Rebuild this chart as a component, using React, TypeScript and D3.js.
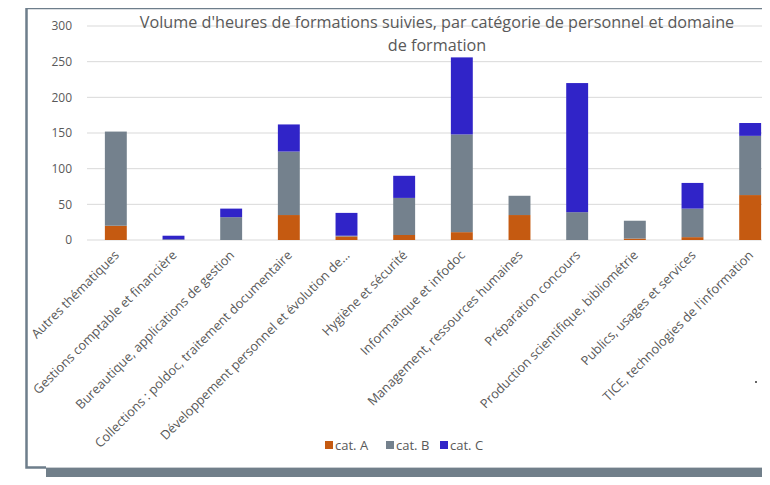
import React from 'react';
import * as d3 from 'd3';

const categories = [
  'Autres thématiques',
  'Gestions comptable et financière',
  'Bureautique, applications de gestion',
  'Collections : poldoc, traitement documentaire',
  'Développement personnel et évolution de...',
  'Hygiène et sécurité',
  'Informatique et infodoc',
  'Management, ressources humaines',
  'Préparation concours',
  'Production scientifique, bibliométrie',
  'Publics, usages et services',
  "TICE, technologies de l'information",
];

const catA = [20, 0, 0, 35, 5, 7, 11, 35, 0, 2, 4, 63];
const catB = [132, 1, 32, 89, 1, 52, 137, 27, 39, 25, 40, 83];
const catC = [0, 5, 12, 38, 32, 31, 108, 0, 181, 0, 36, 18];

const seriesNames = ['cat. A', 'cat. B', 'cat. C'];
const yTicks = [0, 50, 100, 150, 200, 250, 300];

const colors = ['#C55A11', '#74818D', '#3024C8'];
const font = '"Open Sans", "DejaVu Sans", sans-serif';

export default function App() {
  const width = 770;
  const height = 485;

  const x = d3.scaleBand<string>()
    .domain(categories)
    .range([87, 779])
    .paddingInner(0.62)
    .paddingOuter(0.31);

  const y = d3.scaleLinear().domain([0, 300]).range([240, 26]);

  const rows = categories.map((c, i) => ({ cat: c, a: catA[i], b: catB[i], c: catC[i] }));
  const stacked = d3.stack<any>().keys(['a', 'b', 'c'])(rows);

  return (
    <div style={{ margin: -8 }}>
      <svg width={width} height={height} style={{ display: 'block', background: '#fff' }} fontFamily={font}>
        {/* frame */}
        <rect x={46} y={468} width={724} height={17} fill="#717F8A" />
        <line x1={46} x2={770} y1={467.5} y2={467.5} stroke="#c8cdd1" />
        <path d="M 770 8 H 26.5 V 467.5 H 46" fill="none" stroke="#6E7E8B" strokeWidth={2.5} />

        {/* gridlines */}
        {yTicks.map(t => (
          <g key={t}>
            <line x1={87} x2={780} y1={y(t)} y2={y(t)} stroke="#D9D9D9" strokeWidth={1} />
            <text x={72} y={y(t)} dy="0.35em" textAnchor="end" fontSize={12} fill="#595959">{t}</text>
          </g>
        ))}

        {/* bars */}
        {stacked.map((s, si) => (
          <g key={s.key} fill={colors[si]}>
            {s.map((d, i) => (
              d[1] - d[0] > 0 ? (
                <rect key={i} x={x(categories[i])} width={x.bandwidth()}
                  y={y(d[1])} height={y(d[0]) - y(d[1])} />
              ) : null
            ))}
          </g>
        ))}

        {/* x labels */}
        {categories.map(c => {
          const cx = (x(c) as number) + x.bandwidth() / 2 + 4;
          const cy = 256;
          return (
            <text key={c} x={cx} y={cy} textAnchor="end" fontSize={12.8} fill="#595959"
              transform={`rotate(-45, ${cx}, ${cy})`}>{c}</text>
          );
        })}

        {/* title */}
        <text x={437} y={28} textAnchor="middle" fontSize={16.2} fill="#595959">
          Volume d'heures de formations suivies, par catégorie de personnel et domaine
        </text>
        <text x={437} y={51} textAnchor="middle" fontSize={16.2} fill="#595959">de formation</text>

        {/* legend */}
        {seriesNames.map((n, i) => {
          const lx = [325, 386, 440][i];
          return (
            <g key={n}>
              <rect x={lx} y={441} width={8} height={8} fill={colors[i]} />
              <text x={lx + 10} y={445} dy="0.35em" fontSize={13} fill="#595959">{n}</text>
            </g>
          );
        })}

        <circle cx={756} cy={382} r={1} fill="#333" />
      </svg>
    </div>
  );
}
